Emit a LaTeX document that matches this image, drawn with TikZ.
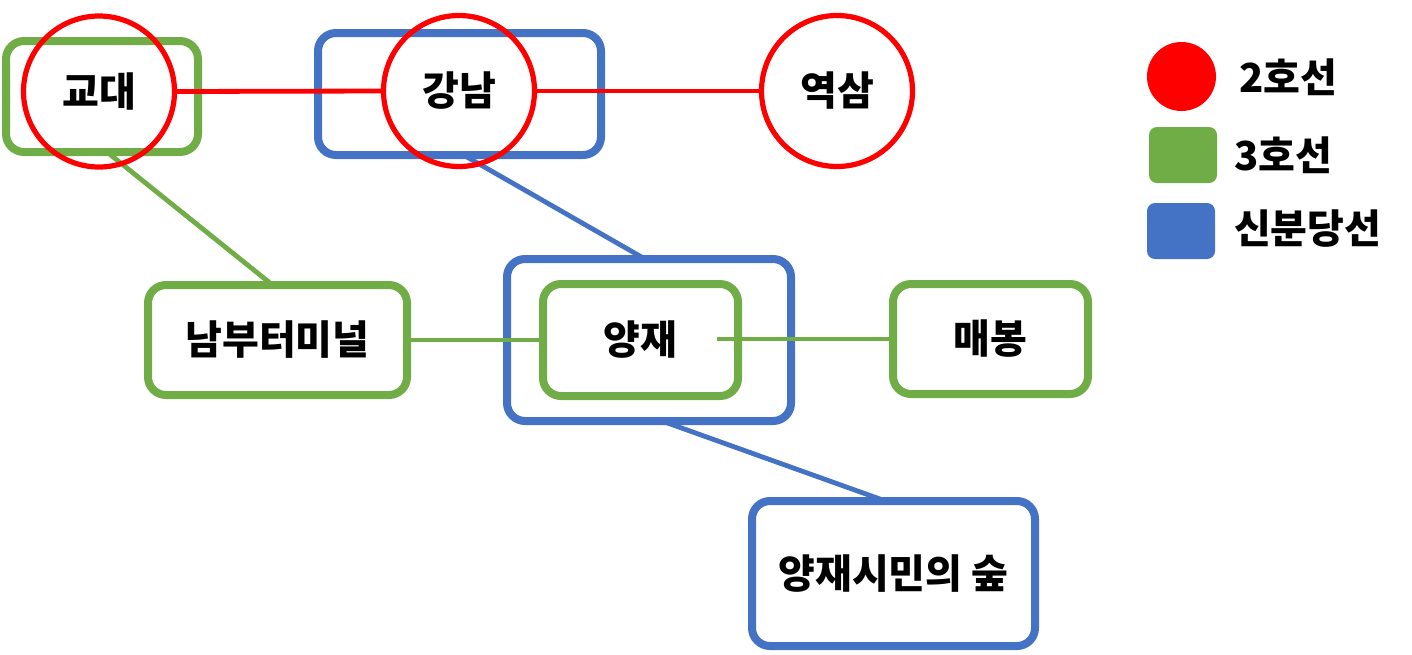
\documentclass[tikz,border=0pt]{standalone}
\usepackage{fontspec}
\setmainfont{Noto Sans CJK KR}
\definecolor{lred}{HTML}{FF0000}
\definecolor{lgreen}{HTML}{70AD47}
\definecolor{lblue}{HTML}{4472C4}
\begin{document}
\begin{tikzpicture}[x=0.5pt,y=-0.5pt,
  every node/.style={outer sep=0pt,inner sep=0pt,font=\fontsize{20}{23}\selectfont\bfseries},
  gbox/.style={draw=lgreen,line width=4pt,rounded corners=9pt,rectangle},
  bbox/.style={draw=lblue,line width=4pt,rounded corners=9pt,rectangle},
  rcirc/.style={draw=lred,line width=2.6pt,circle,minimum size=75.5pt},
  rline/.style={draw=lred,line width=2.4pt},
  gline/.style={draw=lgreen,line width=2.4pt},
  bline/.style={draw=lblue,line width=2.4pt},
  legtext/.style={anchor=west}
]
\useasboundingbox (0,0) rectangle (1412,654);
% boxes
\node[gbox,minimum width=96pt,minimum height=55.5pt] (gb) at (102,96.5) {};
\node[bbox,minimum width=141.5pt,minimum height=61pt] (kb) at (459.5,94) {};
\node[bbox,minimum width=142pt,minimum height=81pt] (yb) at (649,340) {};
\node[gbox,minimum width=129.5pt,minimum height=55pt] (nb) at (277.5,340) {남부터미널};
\node[gbox,minimum width=97.5pt,minimum height=56pt] (yg) at (640.5,340) {양재};
\node[gbox,minimum width=97.5pt,minimum height=55pt] (mb) at (990.5,339) {매봉};
\node[bbox,minimum width=141.5pt,minimum height=72.5pt] (sb) at (893.5,573.5) {양재시민의 숲};
\coordinate (ye) at (717,339);
% connectors
\draw[gline] ([xshift=2.5pt]gb.south) -- ([xshift=-2.5pt]nb.north);
\draw[bline] ([xshift=2pt]kb.south) -- ([xshift=-2pt]yb.north);
\draw[gline] (nb.east) -- (yg.west);
\draw[gline] (ye) -- (mb.west);
\draw[bline] ([xshift=6.5pt]yb.south) -- ([xshift=-4pt]sb.north);
% line 2 circles
\node[rcirc] (gc) at (99,91.5) {교대};
\node[rcirc] (kc) at (459,91) {강남};
\node[rcirc] (yc) at (837,91) {역삼};
\draw[rline] (gc.east) -- (kc.west);
\draw[rline] (kc.east) -- (yc.west);
% legend
\node[circle,fill=lred,minimum size=34.5pt] (lc) at (1181.5,76.5) {};
\node[rectangle,fill=lgreen,rounded corners=4pt,minimum width=34pt,minimum height=28pt] (lg) at (1183,155) {};
\node[rectangle,fill=lblue,rounded corners=4pt,minimum width=34pt,minimum height=28pt] (lb) at (1181,231) {};
\node[legtext] (t2) at (1239,77) {2호선};
\node[legtext] (t3) at (1234,155) {3호선};
\node[legtext] (tb) at (1234,229) {신분당선};
\end{tikzpicture}
\end{document}
